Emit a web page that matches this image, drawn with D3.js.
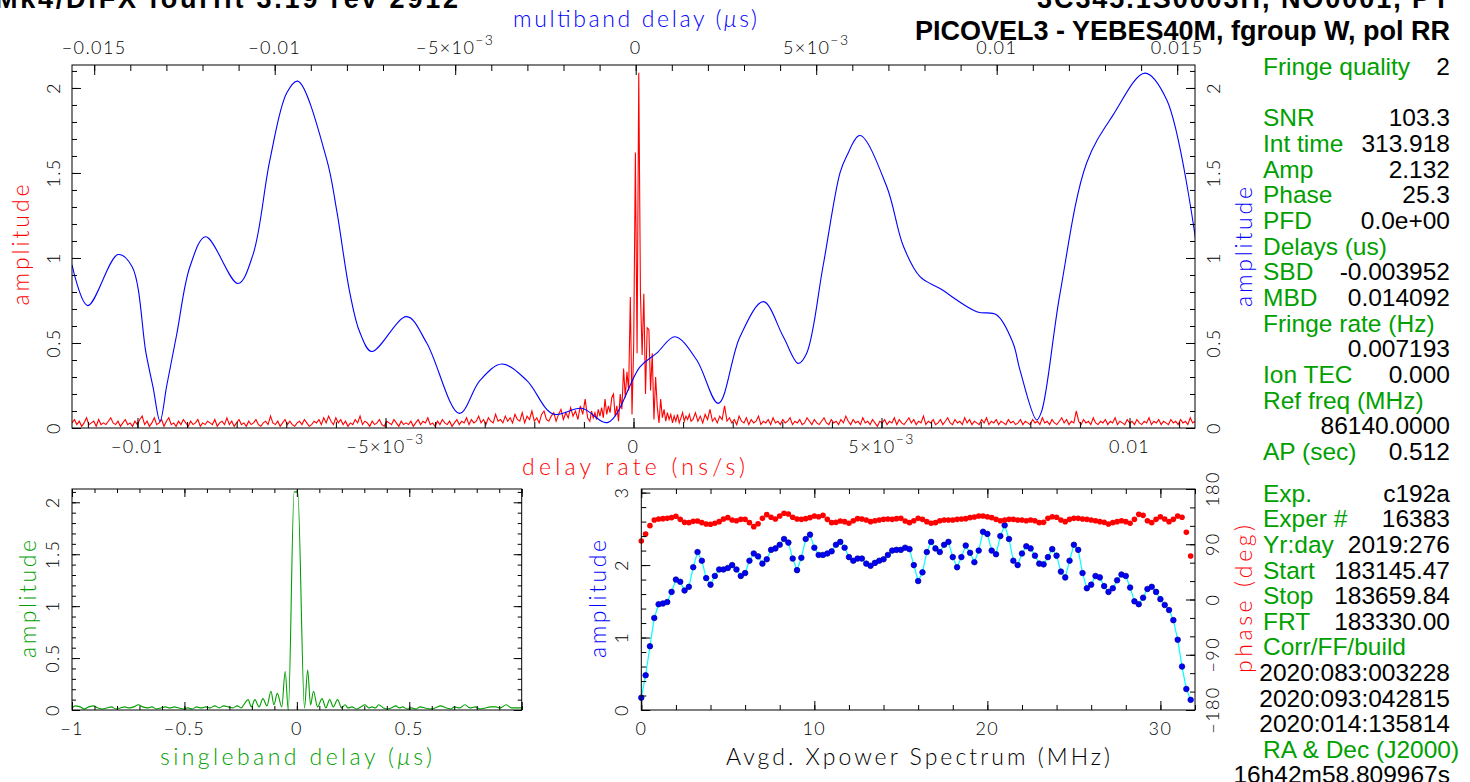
<!DOCTYPE html>
<html>
<head>
<meta charset="utf-8">
<script src="https://cdn.jsdelivr.net/npm/d3@7"></script>
<style>
  body { margin: 0; background: #fff; overflow: hidden; }
  svg { display: block; }
  .lbl { font-family: Lato, "DejaVu Sans", sans-serif; font-weight: 300; }
  .panel { font-family: "Liberation Sans", Arial, sans-serif; font-size: 24.5px; }
  .title { font-family: "Liberation Sans", Arial, sans-serif; font-size: 27px; font-weight: bold; }
</style>
</head>
<body>
<svg id="chart" width="1470" height="782"></svg>
<script>
// multiband delay (us) -> amplitude, blue curve of the main plot
const mbdDelay = [-0.015615,-0.015180,-0.014341,-0.013953,-0.013565,-0.013370,-0.013177,-0.012990,-0.012715,-0.012346,
  -0.011911,-0.011017,-0.010601,-0.010130,-0.009668,-0.009363,-0.008560,-0.008283,-0.007914,-0.007637,
  -0.007313,-0.006343,-0.005789,-0.004886,-0.004313,-0.003712,-0.003019,-0.002291,-0.001496,-0.000767,
  0.000119,0.000582,0.001089,0.001690,0.002288,0.002889,0.003535,0.004089,0.004504,0.004737,
  0.005188,0.005659,0.005845,0.006213,0.006953,0.007413,0.007875,0.008429,0.009446,0.010000,
  0.010452,0.010645,0.011108,0.011247,0.011753,0.012493,0.013222,0.014108,0.014709,0.015512];
const mbdAmp = [0.96,0.72,1.02,0.95,0.44,0.24,0.04,0.25,0.55,0.95,
  1.125,0.85,1.02,1.58,1.97,2.04,1.58,1.28,0.79,0.56,
  0.45,0.655,0.50,0.086,0.28,0.376,0.28,0.082,0.116,0.033,
  0.36,0.44,0.537,0.40,0.145,0.537,0.743,0.537,0.38,0.44,
  0.95,1.50,1.60,1.72,1.42,1.07,0.89,0.82,0.684,0.665,
  0.50,0.34,0.047,0.10,0.79,1.56,1.84,2.087,1.93,1.106];

// delay rate (ns/s) -> amplitude, red curve of the main plot
const rateLeftStart = -0.01132, rateLeftStep = 0.0000488;
const rateLeftAmp = [
  0.03,0.05,0.02,0.04,0.01,0.03,0.06,0.02,0.03,0.04,0.01,0.05,0.02,0.03,0.02,0.04,0.06,0.03,0.02,0.04,
  0.01,0.03,0.05,0.02,0.03,0.01,0.04,0.02,0.05,0.07,0.02,0.04,0.01,0.03,0.06,0.02,0.03,0.05,0.01,0.04,
  0.06,0.02,0.03,0.01,0.04,0.02,0.05,0.03,0.01,0.04,0.02,0.03,0.05,0.01,0.03,0.02,0.04,0.03,0.02,0.05,
  0.01,0.03,0.04,0.02,0.06,0.02,0.04,0.01,0.03,0.05,0.02,0.03,0.01,0.04,0.02,0.03,0.05,0.02,0.01,0.03,
  0.04,0.02,0.07,0.03,0.02,0.04,0.01,0.03,0.05,0.02,0.04,0.02,0.01,0.03,0.04,0.02,0.05,0.03,0.01,0.02,
  0.04,0.03,0.05,0.02,0.06,0.03,0.07,0.04,0.02,0.06,0.03,0.05,0.02,0.04,0.01,0.03,0.02,0.05,0.03,0.07,
  0.02,0.04,0.03,0.01,0.04,0.02,0.03,0.05,0.02,0.01,0.04,0.03,0.02,0.05,0.03,0.01,0.04,0.02,0.03,0.02,
  0.04,0.01,0.03,0.05,0.02,0.04,0.03,0.06,0.02,0.03,0.01,0.04,0.02,0.05,0.03,0.02,0.04,0.01,0.03,0.05,
  0.02,0.04,0.03,0.06,0.02,0.05,0.03,0.04,0.07,0.03,0.05,0.02,0.06,0.04,0.03,0.08,0.04,0.05,0.03,0.07,
  0.04,0.06,0.03,0.08,0.05,0.04,0.09,0.03,0.07,0.05,0.10,0.04,0.06,0.03,0.08,0.10,0.05,0.04,0.07,0.09,
  0.04,0.08,0.11,0.05,0.09,0.06,0.12,0.07,0.10,0.05,0.13,0.08,0.17,0.06];
const rateCenterStart = -0.00088, rateCenterStep = 0.000034;
const rateCenterAmp = [
  0.04,0.10,0.06,0.09,0.05,0.11,0.07,0.12,0.06,0.17,
  0.08,0.13,0.09,0.18,0.20,0.07,0.13,0.04,0.20,0.11,
  0.35,0.18,0.33,0.22,0.77,0.08,0.49,1.62,0.44,2.09,
  0.79,0.43,0.79,0.20,0.59,0.58,0.22,0.44,0.05,0.30,
  0.12,0.03,0.17,0.06,0.11,0.04,0.09,0.05,0.08,0.03,
  0.07,0.04,0.08,0.03,0.06,0.09,0.04,0.07,0.05,0.08,0.04];
const rateRightStart = 0.0012, rateRightStep = 0.0000489;
const rateRightAmp = [
  0.05,0.09,0.04,0.07,0.03,0.08,0.05,0.11,0.04,0.06,0.03,0.07,0.05,0.13,0.04,0.06,0.03,0.05,0.02,0.07,
  0.04,0.03,0.06,0.02,0.05,0.03,0.04,0.07,0.02,0.04,0.03,0.05,0.02,0.06,0.03,0.04,0.02,0.05,0.03,0.04,
  0.06,0.02,0.04,0.03,0.05,0.02,0.03,0.06,0.04,0.02,0.05,0.03,0.02,0.04,0.06,0.03,0.02,0.05,0.03,0.04,
  0.02,0.05,0.03,0.07,0.04,0.02,0.05,0.03,0.04,0.02,0.06,0.03,0.04,0.02,0.05,0.03,0.01,0.04,0.03,0.05,
  0.02,0.04,0.03,0.06,0.02,0.05,0.03,0.02,0.04,0.06,0.03,0.05,0.02,0.04,0.03,0.07,0.02,0.04,0.03,0.05,
  0.02,0.03,0.05,0.02,0.04,0.06,0.03,0.02,0.05,0.03,0.04,0.02,0.06,0.03,0.05,0.02,0.04,0.03,0.02,0.05,
  0.03,0.06,0.02,0.04,0.03,0.05,0.02,0.04,0.03,0.02,0.05,0.03,0.04,0.02,0.03,0.05,0.02,0.04,0.03,0.02,
  0.05,0.03,0.04,0.02,0.06,0.03,0.04,0.02,0.05,0.03,0.02,0.04,0.06,0.03,0.05,0.02,0.04,0.03,0.10,0.04,
  0.02,0.05,0.03,0.04,0.02,0.06,0.03,0.02,0.04,0.03,0.05,0.02,0.04,0.03,0.06,0.02,0.04,0.03,0.02,0.05,
  0.03,0.04,0.02,0.05,0.03,0.02,0.04,0.03,0.06,0.02,0.04,0.03,0.05,0.02,0.04,0.03,0.02,0.05,0.03,0.04,
  0.02,0.05,0.03,0.04,0.02,0.06,0.03,0.04];

// singleband delay (us) -> amplitude, green curve
const sbdDelay = [-1.000,-0.985,-0.965,-0.945,-0.925,-0.905,-0.885,-0.865,-0.845,-0.825,
  -0.805,-0.785,-0.765,-0.745,-0.725,-0.705,-0.685,-0.665,-0.645,-0.625,
  -0.605,-0.585,-0.565,-0.545,-0.525,-0.505,-0.485,-0.465,-0.445,-0.425,
  -0.405,-0.385,-0.365,-0.345,-0.325,-0.305,-0.285,-0.265,-0.248,-0.233,
  -0.217,-0.202,-0.187,-0.168,-0.151,-0.133,-0.115,-0.102,-0.087,-0.067,
  -0.052,-0.038,-0.012,0.004,0.034,0.048,0.061,0.074,0.092,0.112,
  0.129,0.146,0.162,0.181,0.199,0.215,0.227,0.245,0.265,0.285,
  0.303,0.320,0.334,0.350,0.364,0.385,0.403,0.420,0.441,0.455,
  0.471,0.490,0.510,0.530,0.548,0.570,0.594,0.615,0.640,0.665,
  0.685,0.701,0.725,0.747,0.770,0.793,0.815,0.839,0.860,0.885,
  0.905,0.931,0.955,0.977,1.000];
const sbdAmp = [0.02,0.04,0.03,0.01,0.03,0.04,0.02,0.01,0.02,0.03,
  0.01,0.02,0.03,0.02,0.03,0.05,0.03,0.02,0.03,0.01,
  0.02,0.03,0.02,0.03,0.02,0.01,0.02,0.01,0.03,0.02,
  0.03,0.02,0.04,0.02,0.04,0.03,0.02,0.04,0.02,0.06,
  0.10,0.03,0.10,0.03,0.11,0.04,0.18,0.05,0.16,0.03,
  0.37,0.00,2.10,2.10,0.02,0.385,0.05,0.18,0.03,0.11,
  0.02,0.10,0.03,0.10,0.02,0.05,0.02,0.03,0.01,0.03,
  0.05,0.02,0.03,0.02,0.05,0.02,0.01,0.02,0.04,0.02,
  0.03,0.01,0.02,0.01,0.03,0.02,0.01,0.02,0.04,0.02,
  0.01,0.03,0.02,0.05,0.02,0.03,0.01,0.02,0.03,0.03,
  0.02,0.05,0.02,0.02,0.02];

// Avgd. Xpower spectrum, 128 channels of 0.25 MHz
const specFreq = d3.range(128).map(i => i * 0.25);
const specAmp = [0.17,0.48,0.88,1.27,1.46,1.47,1.49,1.63,1.80,1.77,
  1.65,1.70,1.97,2.18,2.06,1.82,1.73,1.85,1.94,1.94,
  1.96,2.00,1.94,1.85,1.89,2.06,2.16,2.12,2.02,2.08,
  2.21,2.23,2.28,2.36,2.31,2.09,1.93,2.10,2.36,2.42,
  2.24,2.14,2.14,2.16,2.19,2.28,2.32,2.24,2.11,2.06,
  2.09,2.09,2.02,1.99,2.03,2.06,2.08,2.14,2.20,2.21,
  2.21,2.24,2.22,2.00,1.78,1.90,2.18,2.32,2.23,2.18,
  2.28,2.32,2.11,1.97,2.11,2.27,2.17,2.04,2.20,2.46,
  2.43,2.20,2.15,2.40,2.55,2.36,2.06,2.00,2.16,2.26,
  2.23,2.13,2.02,2.01,2.11,2.22,2.13,1.91,1.83,2.06,
  2.28,2.21,1.89,1.68,1.73,1.85,1.83,1.71,1.63,1.68,
  1.79,1.87,1.85,1.69,1.50,1.46,1.55,1.67,1.70,1.63,
  1.53,1.45,1.38,1.24,0.97,0.60,0.29,0.14];
const specPhase = [95.3,106.7,120.3,129.5,131.1,131.7,132.2,133.3,135.5,130.6,
  125.7,125.2,127.3,127.9,125.2,123.0,122.5,124.1,126.8,131.1,
  133.3,129.5,128.4,130.6,130.6,125.2,118.7,123.5,132.2,138.2,
  133.9,131.1,136.0,140.4,139.3,133.9,131.1,130.6,131.7,133.3,
  136.0,134.9,137.1,130.6,125.2,125.7,127.9,126.8,124.1,128.4,
  131.7,131.1,129.5,126.8,128.4,129.5,130.6,131.1,130.6,131.7,
  132.2,127.9,125.2,128.4,132.2,130.6,126.8,124.1,125.2,128.4,
  129.5,129.5,129.5,130.6,131.1,131.7,133.3,134.4,136.0,136.0,
  134.9,133.3,130.6,128.4,129.5,130.6,130.6,129.5,129.5,128.4,
  129.5,128.4,125.2,125.7,132.2,134.9,133.9,129.5,126.8,130.6,
  132.2,132.2,131.1,130.6,129.5,128.4,126.8,125.7,123.0,125.2,
  126.8,128.4,126.8,124.1,130.6,138.7,137.1,128.4,125.2,130.6,
  134.9,131.1,126.8,130.6,136.0,133.9,109.4,70.9];

// tick label lists
const mbdTicks = [-0.015,-0.01,-0.005,0,0.005,0.01,0.015];
const rateTicks = [-0.01,-0.005,0,0.005,0.01];
const ampTicks = [0,0.5,1,1.5,2];
const sbdTicks = [-1,-0.5,0,0.5];
const freqTicks = [0,10,20,30];
const specAmpTicks = [0,1,2,3];
const phaseTicks = [-180,-90,0,90,180];

// text panel on the right
const panelTop = [["Fringe quality","2"],null,["SNR","103.3"],["Int time","313.918"],["Amp","2.132"],
  ["Phase","25.3"],["PFD","0.0e+00"],["Delays (us)",""],["SBD","-0.003952"],["MBD","0.014092"],
  ["Fringe rate (Hz)",""],["","0.007193"],["Ion TEC","0.000"],["Ref freq (MHz)",""],["","86140.0000"],
  ["AP (sec)","0.512"]];
const panelBottom = [["Exp.","c192a"],["Exper #","16383"],["Yr:day","2019:276"],["Start","183145.47"],
  ["Stop","183659.84"],["FRT","183330.00"],["Corr/FF/build",""],["","2020:083:003228"],
  ["","2020:093:042815"],["","2020:014:135814"],["RA & Dec (J2000)",""],["","16h42m58.809967s"]];

const RED = "#ff0000", BLUE = "#0000ff", GREEN = "#00a000", CYAN = "#00ffff";
const svg = d3.select("#chart");
const MINUS = "\u2212";

function fmt(v) {
  if (v === 0) return {b: "0"};
  const s = v < 0 ? MINUS : "";
  const a = Math.abs(v);
  if (Math.abs(a - 0.005) < 1e-9) return {b: s + "5\u00d710", sup: MINUS + "3"};
  return {b: s + String(a)};
}

function putLabel(g, x, y, v, rot) {
  const f = typeof v === "number" ? fmt(v) : {b: v};
  const t = g.append("text").attr("class", "lbl")
    .attr("x", x).attr("y", y)
    .attr("text-anchor", "middle").attr("dominant-baseline", "central")
    .attr("font-size", 18).attr("letter-spacing", 1.4);
  if (rot) t.attr("transform", `rotate(-90,${x},${y})`);
  t.append("tspan").text(f.b);
  if (f.sup) t.append("tspan").attr("dy", -8).attr("font-size", 14).text(f.sup);
  return t;
}

function tickSide(g, scale, side, values, size, pos) {
  const gen = {bottom: d3.axisTop, top: d3.axisBottom, left: d3.axisRight, right: d3.axisLeft}[side];
  const tr = (side === "bottom" || side === "top") ? `translate(0,${pos})` : `translate(${pos},0)`;
  g.append("g").attr("transform", tr)
    .call(gen(scale).tickValues(values).tickSize(size).tickFormat(""))
    .call(s => s.select(".domain").remove())
    .call(s => s.selectAll("line").attr("stroke", "#000"));
}

function frame(g, x0, y0, x1, y1) {
  g.append("rect").attr("x", x0).attr("y", y0).attr("width", x1 - x0).attr("height", y1 - y0)
    .attr("fill", "none").attr("stroke", "#000").attr("stroke-width", 1);
}

function axisTitle(x, y, txt, color, rot, len) {
  const t = svg.append("text").attr("class", "lbl").attr("x", x - len / 2).attr("y", y)
    .attr("dominant-baseline", "central")
    .attr("font-size", 23).attr("fill", color)
    .attr("textLength", len).attr("lengthAdjust", "spacing");
  if (rot) t.attr("transform", `rotate(-90,${x},${y})`);
  const parts = txt.split("\u03bc");
  t.append("tspan").text(parts[0]);
  if (parts.length > 1) {
    t.append("tspan").attr("font-style", "italic").text("\u03bc");
    t.append("tspan").text(parts[1]);
  }
}

// ---------- MAIN PLOT ----------
const M = {l: 72, r: 1195, t: 65, b: 428};
const xRate = d3.scaleLinear().domain([-0.01132, 0.01132]).range([M.l, M.r]);
const xMbd = d3.scaleLinear().domain([-0.015615, 0.015493]).range([M.l, M.r]);
const yMain = d3.scaleLinear().domain([0, 2.135]).range([M.b, M.t]);

svg.append("defs").append("clipPath").attr("id", "clip-main")
  .append("rect").attr("x", M.l).attr("y", M.t).attr("width", M.r - M.l).attr("height", M.b - M.t);

const gMain = svg.append("g");
const gMainCurves = gMain.append("g").attr("clip-path", "url(#clip-main)");

const redPts = [];
rateLeftAmp.forEach((a, i) => redPts.push([rateLeftStart + i * rateLeftStep, a]));
rateCenterAmp.forEach((a, i) => redPts.push([rateCenterStart + i * rateCenterStep, a]));
rateRightAmp.forEach((a, i) => redPts.push([rateRightStart + i * rateRightStep, a]));

gMainCurves.append("path").datum(redPts)
  .attr("fill", "none").attr("stroke", RED).attr("stroke-width", 1.1)
  .attr("d", d3.line().x(d => xRate(d[0])).y(d => yMain(d[1])));

gMainCurves.append("path").datum(mbdDelay.map((d, i) => [d, mbdAmp[i]]))
  .attr("fill", "none").attr("stroke", BLUE).attr("stroke-width", 1.1)
  .attr("d", d3.line().x(d => xMbd(d[0])).y(d => yMain(d[1])).curve(d3.curveCatmullRom.alpha(0.5)));

frame(gMain, M.l, M.t, M.r, M.b);
const ampMinor = d3.range(0, 2.11, 0.1);
tickSide(gMain, yMain, "left", ampMinor, 5, M.l);
tickSide(gMain, yMain, "left", ampTicks, 9, M.l);
tickSide(gMain, yMain, "right", ampMinor, 5, M.r);
tickSide(gMain, yMain, "right", ampTicks, 9, M.r);
const mbdMinor = d3.range(-15, 16).map(k => k * 0.001);
tickSide(gMain, xMbd, "top", mbdMinor, 6, M.t);
tickSide(gMain, xMbd, "top", mbdTicks, 10, M.t);
const rateMinor = d3.range(-11, 12).map(k => k * 0.001);
tickSide(gMain, xRate, "bottom", rateMinor, 6, M.b);
tickSide(gMain, xRate, "bottom", rateTicks, 10, M.b);

mbdTicks.forEach(v => putLabel(gMain, xMbd(v), 47, v, false));
rateTicks.forEach(v => putLabel(gMain, xRate(v), 446, v, false));
ampTicks.forEach(v => putLabel(gMain, 53, yMain(v), v, true));
ampTicks.forEach(v => putLabel(gMain, 1213, yMain(v), v, true));

axisTitle(635, 18, "multiband delay (\u03bcs)", BLUE, false, 244);
axisTitle(633.5, 466, "delay rate (ns/s)", RED, false, 223);
axisTitle(20, 245, "amplitude", RED, true, 121);
axisTitle(1243, 247, "amplitude", BLUE, true, 120);

// ---------- SINGLEBAND DELAY PLOT ----------
const S = {l: 72, r: 521.7, t: 489, b: 710};
const xSbd = d3.scaleLinear().domain([-1, 1]).range([S.l, S.r]);
const ySbd = d3.scaleLinear().domain([0, 2.128]).range([S.b, S.t]);
const gSbd = svg.append("g");
gSbd.append("path").datum(sbdDelay.map((d, i) => [d, sbdAmp[i]]))
  .attr("fill", "none").attr("stroke", GREEN).attr("stroke-width", 1.1)
  .attr("d", d3.line().x(d => xSbd(d[0])).y(d => ySbd(d[1])).curve(d3.curveMonotoneX));
frame(gSbd, S.l, S.t, S.r, S.b);
const sbdMinor = d3.range(-10, 11).map(k => k * 0.1);
tickSide(gSbd, xSbd, "bottom", sbdMinor, 4, S.b);
tickSide(gSbd, xSbd, "bottom", [-1, -0.5, 0, 0.5, 1], 8, S.b);
tickSide(gSbd, xSbd, "top", sbdMinor, 4, S.t);
tickSide(gSbd, xSbd, "top", [-1, -0.5, 0, 0.5, 1], 8, S.t);
tickSide(gSbd, ySbd, "left", ampMinor, 4, S.l);
tickSide(gSbd, ySbd, "left", ampTicks, 8, S.l);
tickSide(gSbd, ySbd, "right", ampMinor, 4, S.r);
tickSide(gSbd, ySbd, "right", ampTicks, 8, S.r);
sbdTicks.forEach(v => putLabel(gSbd, xSbd(v), 728, v, false));
ampTicks.forEach(v => putLabel(gSbd, 52, ySbd(v), v, true));
axisTitle(296, 756, "singleband delay (\u03bcs)", GREEN, false, 272);
axisTitle(27, 599, "amplitude", GREEN, true, 118);

// ---------- XPOWER SPECTRUM PLOT ----------
const P = {l: 641.3, r: 1195, t: 489, b: 710};
const xFreq = d3.scaleLinear().domain([0, 32]).range([P.l, P.r]);
const ySpec = d3.scaleLinear().domain([0, 3.05]).range([P.b, P.t]);
const yPhase = d3.scaleLinear().domain([-180, 180]).range([P.b, P.t]);
const gSpec = svg.append("g");
gSpec.append("path").datum(specFreq.map((f, i) => [f, specAmp[i]]))
  .attr("fill", "none").attr("stroke", CYAN).attr("stroke-width", 1.2)
  .attr("d", d3.line().x(d => xFreq(d[0])).y(d => ySpec(d[1])));
gSpec.append("g").selectAll("circle").data(specFreq.map((f, i) => [f, specAmp[i]]))
  .enter().append("circle")
  .attr("cx", d => xFreq(d[0])).attr("cy", d => ySpec(d[1])).attr("r", 2.8)
  .attr("fill", BLUE).attr("stroke", "#000090").attr("stroke-width", 0.7);
gSpec.append("g").selectAll("circle").data(specFreq.map((f, i) => [f, specPhase[i]]))
  .enter().append("circle")
  .attr("cx", d => xFreq(d[0])).attr("cy", d => yPhase(d[1])).attr("r", 2.8)
  .attr("fill", RED);
frame(gSpec, P.l, P.t, P.r, P.b);
const freqMinor = d3.range(0, 33, 2);
tickSide(gSpec, xFreq, "bottom", freqMinor, 5, P.b);
tickSide(gSpec, xFreq, "bottom", freqTicks, 9, P.b);
tickSide(gSpec, xFreq, "top", freqMinor, 5, P.t);
tickSide(gSpec, xFreq, "top", freqTicks, 9, P.t);
const specMinor = d3.range(0, 3.01, 0.2);
tickSide(gSpec, ySpec, "left", specMinor, 5, P.l);
tickSide(gSpec, ySpec, "left", specAmpTicks, 9, P.l);
const phaseMinor = d3.range(-180, 181, 30);
tickSide(gSpec, yPhase, "right", phaseMinor, 5, P.r);
tickSide(gSpec, yPhase, "right", phaseTicks, 9, P.r);
freqTicks.forEach(v => putLabel(gSpec, xFreq(v), 728, v, false));
specAmpTicks.forEach(v => putLabel(gSpec, 621, ySpec(v), v, true));
phaseTicks.forEach(v => putLabel(gSpec, 1212, yPhase(v), v, true));
axisTitle(918, 756, "Avgd. Xpower Spectrum (MHz)", "#000", false, 384);
axisTitle(597, 599, "amplitude", BLUE, true, 118);
axisTitle(1243, 599, "phase (deg)", RED, true, 148);

// ---------- TEXT PANEL ----------
const gPanel = svg.append("g").attr("class", "panel");
function panelRows(rows, y0, dy) {
  rows.forEach((r, i) => {
    if (!r) return;
    const y = y0 + i * dy;
    if (r[0]) gPanel.append("text").attr("x", 1263).attr("y", y).attr("fill", GREEN).text(r[0]);
    if (r[1]) gPanel.append("text").attr("x", 1450).attr("y", y).attr("text-anchor", "end").attr("fill", "#000").text(r[1]);
  });
}
panelRows(panelTop, 75, 25.67);
panelRows(panelBottom, 501.7, 25.6);

// ---------- TITLES ----------
svg.append("text").attr("class", "title").attr("x", -5).attr("y", 8)
  .attr("textLength", 463).attr("lengthAdjust", "spacing")
  .text("Mk4/DiFX fourfit  3.19 rev 2912");
svg.append("text").attr("class", "title").attr("x", 1450).attr("y", 8).attr("text-anchor", "end")
  .attr("textLength", 413).attr("lengthAdjust", "spacing")
  .text("3C345.1S0003H, NO0001, PY");
svg.append("text").attr("class", "title").attr("x", 1450).attr("y", 40).attr("text-anchor", "end")
  .text("PICOVEL3 - YEBES40M, fgroup W, pol RR");
</script>
</body>
</html>
